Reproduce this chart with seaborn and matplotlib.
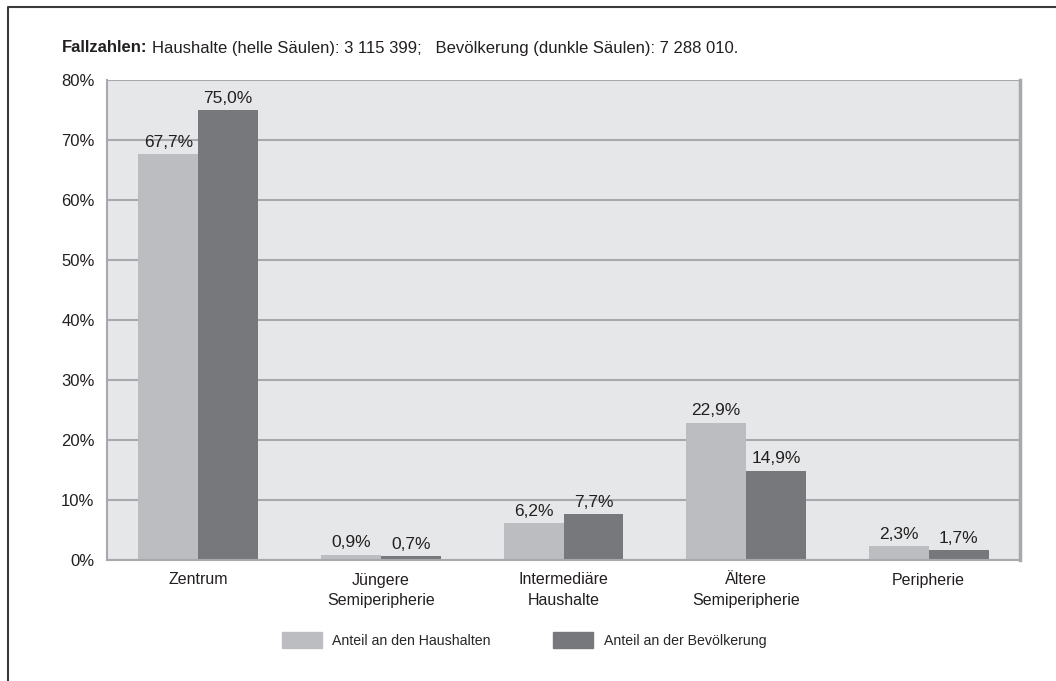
import pandas as pd
import matplotlib
matplotlib.use('Agg')
import matplotlib.pyplot as plt
import seaborn as sns
from matplotlib.patches import Rectangle

# data
categories = ['Zentrum', 'Jüngere\nSemiperipherie', 'Intermediäre\nHaushalte',
              'Ältere\nSemiperipherie', 'Peripherie']
haushalte = [67.7, 0.9, 6.2, 22.9, 2.3]
bevoelkerung = [75.0, 0.7, 7.7, 14.9, 1.7]
series_names = ['Anteil an den Haushalten', 'Anteil an der Bevölkerung']
y_ticks = [0, 10, 20, 30, 40, 50, 60, 70, 80]

df = pd.DataFrame({'Kategorie': categories * 2,
                   'Wert': haushalte + bevoelkerung,
                   'Reihe': [series_names[0]] * 5 + [series_names[1]] * 5})

sns.set_style('white')
plt.rcParams['font.family'] = ['Liberation Sans', 'DejaVu Sans']

light = '#bcbdc0'
dark = '#77787b'
gridc = '#a7a9ac'
txt = '#231f20'

fig = plt.figure(figsize=(10.56, 6.81), dpi=100)
ax = fig.add_axes([107 / 1056, 1 - 560 / 681, 913 / 1056, 480 / 681])
ax.set_facecolor('#e6e7e8')

sns.barplot(data=df, x='Kategorie', y='Wert', hue='Reihe', ax=ax,
            palette=[light, dark], width=0.655, gap=0, saturation=1,
            edgecolor='none', linewidth=0)

ax.set_ylim(0, 80)
ax.set_yticks(y_ticks)
ax.set_yticklabels([f'{t}%' for t in y_ticks], fontsize=12, color=txt)
ax.set_xlim(-0.5, 4.5)
ax.tick_params(axis='x', length=0, pad=9, labelsize=11.5, labelcolor=txt)
for lbl in ax.get_xticklabels():
    lbl.set_linespacing(1.45)
ax.tick_params(axis='y', length=6, width=1.2, color=gridc, pad=3)
ax.set_xlabel('')
ax.set_ylabel('')
ax.yaxis.grid(True, color=gridc, linewidth=1.5)
ax.set_axisbelow(True)
for s in ax.spines.values():
    s.set_color(gridc)
    s.set_linewidth(1.5)
ax.spines['top'].set_visible(False)
ax.spines['right'].set_linewidth(2.5)

for cont in ax.containers:
    ax.bar_label(cont, labels=[f'{v:.1f}%'.replace('.', ',') for v in cont.datavalues],
                 padding=3, fontsize=12.5, color=txt)

ax.legend_.remove()
handles = [Rectangle((0, 0), 1, 1, color=light), Rectangle((0, 0), 1, 1, color=dark)]
fig.legend(handles, series_names, loc='center', bbox_to_anchor=(524 / 1056, 1 - 640 / 681),
           ncol=2, frameon=False, fontsize=10.2, handlelength=2.85, handleheight=1.45,
           columnspacing=4.4, handletextpad=0.72)

t1 = fig.text(62 / 1056, 1 - 48 / 681, 'Fallzahlen:', fontsize=12, fontweight='bold',
              color=txt, va='center')
fig.canvas.draw()
bb = t1.get_window_extent()
fig.text((bb.x1 + 4) / 1056, 1 - 48 / 681,
         'Haushalte (helle Säulen): 3 115 399;   Bevölkerung (dunkle Säulen): 7 288 010.',
         fontsize=12, color=txt, va='center')

# outer frame (top and left edges)
fig.add_artist(plt.Line2D([8 / 1056, 8 / 1056, 1.0], [0.0, 1 - 7 / 681, 1 - 7 / 681],
                          transform=fig.transFigure, color='#3a3a3a', linewidth=1.5))

fig.savefig('out.png', dpi=100)
